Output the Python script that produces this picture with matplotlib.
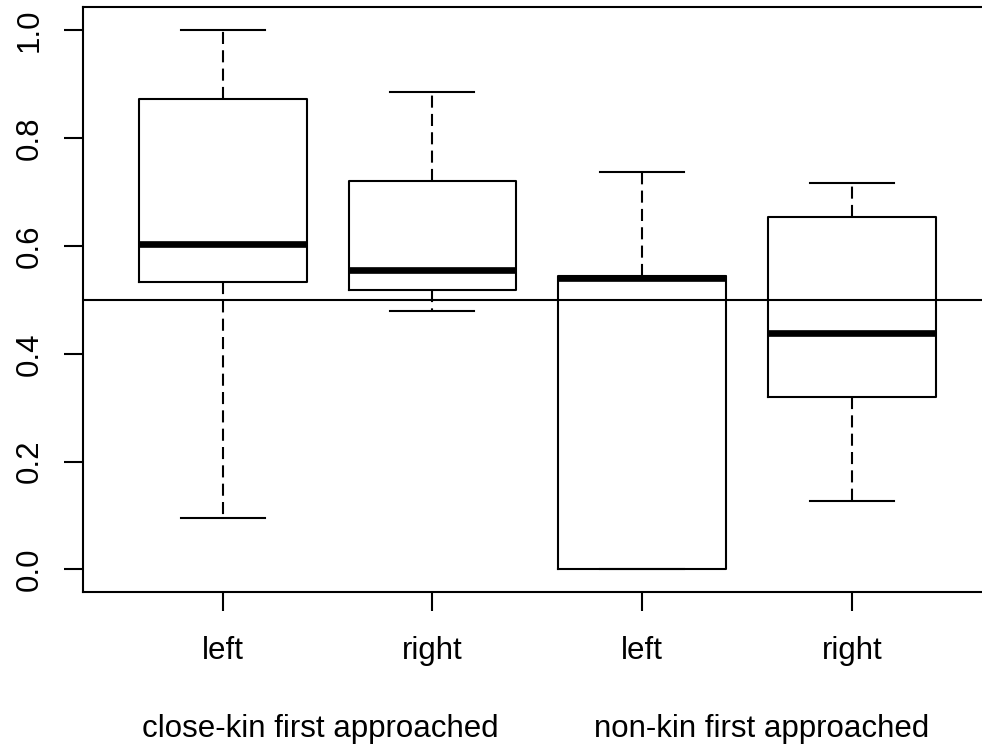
import matplotlib
matplotlib.use("Agg")
import matplotlib.pyplot as plt

# Box summaries: lower whisker, lower hinge, median, upper hinge, upper whisker
side_labels = ["left", "right", "left", "right"]
group_labels = ["close-kin first approached", "non-kin first approached"]
whisker_low = [0.096, 0.479, 0.000, 0.126]
hinge_low = [0.533, 0.519, 0.000, 0.319]
medians = [0.604, 0.556, 0.540, 0.438]
hinge_high = [0.873, 0.720, 0.545, 0.653]
whisker_high = [1.000, 0.886, 0.738, 0.716]
reference_level = 0.5
y_ticks = [0.0, 0.2, 0.4, 0.6, 0.8, 1.0]

plt.rcParams["font.family"] = ["Liberation Sans", "DejaVu Sans"]

fig = plt.figure(figsize=(9.82, 7.5), dpi=100)
ax = fig.add_axes([0.0842, 0.2107, 0.9188, 0.7796])

stats = []
for lo, q1, md, q3, hi in zip(whisker_low, hinge_low, medians, hinge_high, whisker_high):
    stats.append({"whislo": lo, "q1": q1, "med": md, "q3": q3, "whishi": hi, "fliers": []})

positions = list(range(1, len(stats) + 1))
lw = 1.5
ax.bxp(
    stats,
    positions=positions,
    widths=0.8,
    capwidths=0.4,
    showfliers=False,
    boxprops=dict(color="black", linewidth=lw),
    whiskerprops=dict(color="black", linewidth=lw, linestyle=(0, (5.8, 3.0))),
    capprops=dict(color="black", linewidth=lw),
    medianprops=dict(color="black", linewidth=4.8, solid_capstyle="butt"),
)

ax.axhline(reference_level, color="black", linewidth=lw, zorder=3)

ax.set_xlim(0.332, 4.635)
ax.set_ylim(-0.042, 1.043)

ax.set_yticks(y_ticks)
ax.set_yticklabels([f"{v:.1f}" for v in y_ticks], rotation=90, va="center")
ax.set_xticks(positions)
ax.set_xticklabels(side_labels)

ax.tick_params(axis="both", direction="out", length=13.4, width=lw,
               labelsize=22.5, colors="black")
ax.tick_params(axis="y", pad=14)
ax.tick_params(axis="x", pad=18.5)

for sp in ax.spines.values():
    sp.set_linewidth(lw)
    sp.set_color("black")

# Group captions under each pair of boxes, on a common baseline
group_centers = [1.465, 3.57]
for xc, txt in zip(group_centers, group_labels):
    xf = ax.transData.transform((xc, 0))[0] / fig.bbox.width
    fig.text(xf, 0.0173, txt, fontsize=22.5, ha="center", va="baseline")

fig.savefig("out.png", dpi=100)
